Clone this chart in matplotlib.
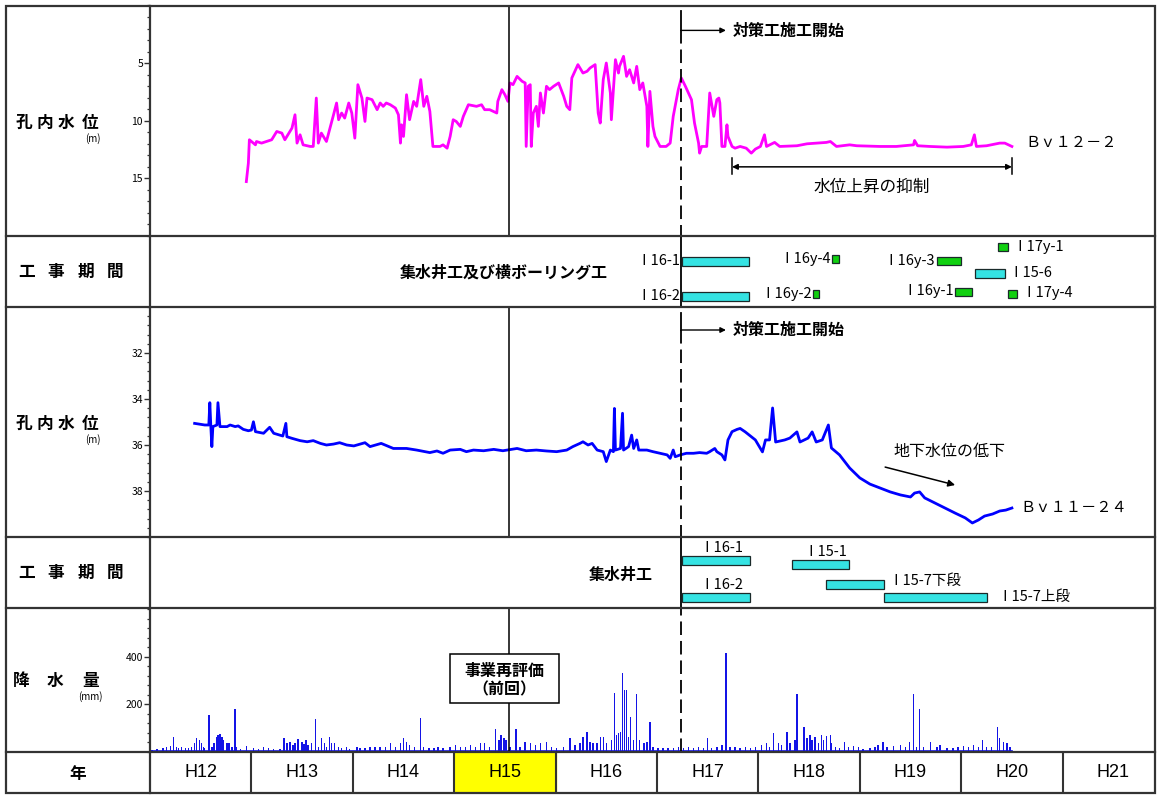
import matplotlib
matplotlib.use('Agg')
import matplotlib.pyplot as plt
from matplotlib.ticker import MultipleLocator, FixedLocator
from matplotlib.patches import Rectangle

plt.rcParams['font.family'] = ['Noto Sans CJK JP', 'DejaVu Sans']

# ---------------- data ----------------
# Bv12-2 water level (depth, m) vs. fiscal-year axis (Heisei years)
bv12_year = [12.95,12.97,12.98,13.04,13.05,13.10,13.15,13.20,13.25,13.30,
             13.33,13.36,13.40,13.43,13.45,13.48,13.51,13.58,13.61,13.64,
             13.66,13.69,13.74,13.78,13.81,13.84,13.86,13.89,13.92,13.96,
             13.99,14.02,14.05,14.09,14.12,14.14,14.19,14.24,14.27,14.30,
             14.33,14.37,14.42,14.45,14.47,14.48,14.50,14.53,14.56,14.60,
             14.63,14.67,14.70,14.73,14.76,14.79,14.86,14.89,14.93,14.96,
             14.99,15.02,15.06,15.09,15.14,15.22,15.27,15.30,15.35,
             15.42,15.43,15.47,15.50,15.53,15.55,15.58,15.62,15.67,15.70,
             15.71,15.73,15.75,15.76,15.78,15.81,15.83,15.85,15.88,15.91,
             15.94,15.98,16.03,16.08,16.11,16.14,16.16,16.22,16.27,16.31,
             16.34,16.39,16.42,16.44,16.47,16.50,16.54,16.55,16.59,16.62,
             16.63,16.67,16.70,16.73,16.77,16.80,16.83,16.86,16.90,16.91,
             16.93,16.96,16.98,17.03,17.09,17.13,17.16,17.21,17.24,17.28,
             17.31,17.34,17.37,17.41,17.42,17.44,17.49,17.52,17.56,17.59,
             17.61,17.62,17.64,17.67,17.69,17.70,17.74,17.77,17.82,
             17.88,17.93,17.97,18.02,18.06,18.08,18.16,18.21,18.38,18.48,
             18.58,18.67,18.71,18.77,18.90,18.97,19.20,19.36,19.53,19.54,
             19.57,19.69,19.86,20.02,20.10,20.13,20.15,20.25,20.38,20.43,
             20.50]
bv12_depth = [15.28,13.68,11.65,12.09,11.80,11.94,11.80,11.65,10.93,11.07,
              11.65,11.22,10.64,9.48,11.94,11.22,12.09,12.23,12.23,8.03,
              11.94,11.07,11.80,10.49,9.48,8.46,9.91,9.33,9.77,8.46,
              9.33,11.51,6.87,8.03,10.06,8.03,8.17,9.04,8.46,8.75,
              8.46,8.61,8.90,9.48,11.94,10.35,11.36,7.74,9.91,8.32,
              8.75,6.43,8.75,7.88,9.19,12.23,12.23,12.09,12.38,11.36,
              9.91,10.06,10.49,9.62,8.61,8.75,8.61,9.04,9.04,
              9.33,8.32,7.30,7.74,8.32,6.72,6.87,6.15,6.58,6.72,
              12.23,7.01,6.87,12.23,9.33,8.75,10.49,7.59,9.33,7.01,
              7.30,7.01,6.72,7.88,8.75,9.04,6.29,5.13,5.86,5.71,
              5.42,5.13,9.33,10.20,6.43,4.99,7.59,9.91,4.70,5.86,
              5.28,4.41,6.15,5.57,6.72,5.28,7.30,6.72,8.75,12.23,
              7.45,10.49,11.36,12.23,12.23,11.94,9.62,7.30,6.29,7.01,
              7.59,8.17,10.20,11.94,12.81,12.23,12.23,7.59,9.62,8.17,
              8.03,8.46,12.23,12.23,10.35,11.36,12.23,12.38,12.23,
              12.38,12.81,12.46,12.23,11.22,12.23,11.88,12.23,12.17,12.00,
              11.94,11.88,11.80,12.23,12.09,12.17,12.23,12.23,12.09,11.71,
              12.17,12.23,12.29,12.23,12.09,11.22,12.23,12.17,11.94,11.94,
              12.23]

# Bv11-24 water level (m)
bv11_year = [12.44,12.54,12.58,12.59,12.60,12.61,12.62,12.66,12.67,12.69,
             12.76,12.79,12.84,12.87,12.92,12.97,13.00,13.02,13.04,13.12,
             13.18,13.22,13.31,13.34,13.35,13.40,13.48,13.55,13.61,13.68,
             13.74,13.81,13.87,13.94,14.01,14.12,14.17,14.28,14.40,14.53,
             14.63,14.76,14.83,14.89,14.96,
             15.06,15.12,15.19,15.29,15.39,15.48,15.62,15.71,15.81,15.91,
             16.01,16.11,16.17,16.24,16.27,16.32,16.36,16.41,16.47,16.50,
             16.54,16.57,16.58,16.59,16.64,16.66,16.67,16.72,16.75,16.77,
             16.80,16.82,16.90,16.96,17.03,17.10,17.13,17.16,17.18,17.23,
             17.29,17.36,17.42,17.49,17.52,17.57,17.59,17.64,17.67,17.70,
             17.74,17.79,17.82,
             17.87,17.97,18.04,18.07,18.11,18.14,18.17,18.26,18.31,18.38,
             18.41,18.49,18.53,18.57,18.63,18.69,18.72,18.80,18.90,19.00,
             19.10,19.20,19.30,19.40,19.50,19.54,19.59,19.64,19.74,19.84,
             19.94,20.04,20.11,20.17,20.23,20.31,20.38,20.44,20.50]
bv11_depth = [35.06,35.13,35.13,34.16,35.20,36.07,35.20,35.13,34.16,35.20,
              35.20,35.13,35.20,35.17,35.32,35.38,35.35,34.99,35.42,35.49,
              35.23,35.49,35.61,35.06,35.64,35.71,35.81,35.86,35.81,35.93,
              36.00,35.96,35.90,36.00,36.04,35.90,36.07,35.93,36.15,36.15,
              36.22,36.33,36.26,36.36,36.22,
              36.19,36.29,36.22,36.25,36.19,36.25,36.15,36.25,36.22,36.26,
              36.29,36.22,36.07,35.93,35.86,36.00,35.93,36.22,36.29,36.72,
              36.22,36.29,34.41,36.22,36.15,34.62,36.22,36.07,35.57,36.15,
              35.78,36.22,36.22,36.29,36.36,36.43,36.58,36.22,36.51,36.43,
              36.36,36.36,36.33,36.36,36.29,36.15,36.29,36.43,36.65,35.78,
              35.42,35.32,35.28,
              35.43,35.78,36.30,35.78,35.78,34.39,35.87,35.78,35.70,35.43,
              35.87,35.70,35.43,35.87,35.78,35.13,36.13,36.43,37.00,37.43,
              37.70,37.87,38.04,38.17,38.26,38.09,38.04,38.30,38.52,38.74,
              38.96,39.17,39.39,39.26,39.09,39.00,38.87,38.83,38.74]

# Rainfall (mm)
rain_year = [12.02,12.07,12.13,12.16,12.20,12.23,12.26,12.28,12.31,12.35,
             12.38,12.41,12.44,12.46,12.49,12.51,12.53,12.54,12.58,12.61,
             12.63,12.66,12.67,12.69,12.71,12.72,12.76,12.78,12.81,12.84,
             12.85,12.89,12.95,13.02,13.07,13.12,13.17,13.22,13.28,13.32,
             13.35,13.38,13.41,13.43,13.46,13.50,13.52,13.54,13.56,13.59,
             13.63,13.66,13.69,13.72,13.74,13.77,13.79,13.82,13.86,13.89,
             13.94,13.97,14.04,14.07,14.12,14.17,14.22,14.27,14.32,14.37,
             14.42,
             14.47,14.50,14.53,14.56,14.61,14.67,14.70,14.75,14.80,14.84,
             14.89,14.96,15.01,15.06,15.11,15.16,15.21,15.26,15.30,15.35,
             15.41,15.44,15.46,15.49,15.51,15.55,15.61,15.65,15.70,15.75,
             15.80,15.85,15.91,15.96,16.01,16.08,16.14,16.19,16.24,16.27,
             16.31,16.34,16.37,16.41,16.44,16.47,16.50,16.55,16.58,16.60,
             16.62,16.64,16.66,16.68,16.70,16.72,16.74,16.77,16.80,16.83,
             16.87,16.90,16.93,16.96,17.01,17.06,17.11,17.16,17.21,17.26,
             17.31,17.36,17.41,17.46,17.50,17.54,17.59,17.64,17.68,17.72,
             17.77,17.82,17.87,17.92,17.97,18.03,18.08,18.11,18.15,18.20,
             18.23,18.28,18.31,18.36,18.38,
             18.45,18.48,18.51,18.53,18.56,18.59,18.62,18.64,18.67,18.71,
             18.72,18.76,18.80,18.85,18.89,18.94,18.99,19.03,19.10,19.15,
             19.18,19.23,19.27,19.33,19.40,19.45,19.49,19.53,19.56,19.59,
             19.63,19.70,19.76,19.79,19.86,19.92,19.97,20.02,20.07,20.12,
             20.17,20.21,20.25,20.30,20.36,20.38,20.42,20.45,20.48]
rain_mm = [8,11,15,22,27,64,22,15,22,15,
           18,22,36,57,50,36,22,15,155,22,
           36,62,71,74,64,50,36,39,22,179,
           22,12,27,15,11,22,17,12,12,57,
           36,43,29,36,53,43,32,50,29,36,
           139,22,60,36,22,62,36,36,22,15,
           22,11,22,15,18,22,20,22,22,39,
           22,
           36,57,43,29,22,141,22,15,18,22,
           15,22,29,22,22,31,22,38,36,22,
           95,50,73,59,50,22,95,22,43,36,
           29,38,43,22,15,22,57,29,36,62,
           83,43,36,36,64,64,36,50,249,71,
           78,85,333,263,260,64,148,50,246,50,
           36,43,127,22,15,15,15,18,22,15,
           22,18,22,15,57,15,22,29,417,22,
           22,15,22,15,22,29,36,22,81,36,
           29,84,36,50,246,
           106,57,71,50,64,36,71,50,67,71,
           36,22,15,43,22,25,22,11,15,22,
           29,43,22,25,29,22,43,246,22,179,
           22,43,22,29,15,15,22,25,22,29,
           22,50,22,22,106,57,43,36,22]

# Construction periods (upper: 集水井工及び横ボーリング工)
works1_name = ['Ⅰ16-1', 'Ⅰ16-2', 'Ⅰ16y-4', 'Ⅰ16y-2', 'Ⅰ16y-3', 'Ⅰ16y-1',
               'Ⅰ17y-1', 'Ⅰ15-6', 'Ⅰ17y-4']
works1_start = [17.25, 17.25, 18.73, 18.54, 19.76, 19.94, 20.36, 20.14, 20.46]
works1_end = [17.91, 17.91, 18.79, 18.60, 20.00, 20.11, 20.46, 20.43, 20.55]
works1_kind = ['well', 'well', 'bore', 'bore', 'bore', 'bore', 'bore', 'well', 'bore']

# Construction periods (lower: 集水井工)
works2_name = ['Ⅰ16-1', 'Ⅰ16-2', 'Ⅰ15-1', 'Ⅰ15-7下段', 'Ⅰ15-7上段']
works2_start = [17.25, 17.25, 18.33, 18.67, 19.24]
works2_end = [17.92, 17.92, 18.89, 19.24, 20.25]

years = ['H12', 'H13', 'H14', 'H15', 'H16', 'H17', 'H18', 'H19', 'H20', 'H21']
year_start = [12, 13, 14, 15, 16, 17, 18, 19, 20, 21]
highlight_year = 'H15'

start_countermeasure = 17.24   # 対策工施工開始
reevaluation = 15.54           # 事業再評価（前回）

# ---------------- layout ----------------
W, H = 1161, 795
fig = plt.figure(figsize=(W / 100, H / 100), dpi=100)
LEFT, RIGHT = 150, 1155
XMIN, XMAX = 12.0, 12.0 + (RIGHT - LEFT) / 101.4
FRAME = '#333333'


def rect(x0, y0, x1, y1):
    return [x0 / W, 1 - y1 / H, (x1 - x0) / W, (y1 - y0) / H]


def base_axes(y0, y1):
    ax = fig.add_axes(rect(LEFT, y0, RIGHT, y1))
    ax.set_xlim(XMIN, XMAX)
    ax.patch.set_visible(False)
    for s in ax.spines.values():
        s.set_visible(False)
    ax.set_xticks([])
    return ax


def style_y(ax, major, minor):
    ax.yaxis.set_major_locator(FixedLocator(major))
    ax.yaxis.set_minor_locator(MultipleLocator(minor))
    ax.tick_params(axis='y', which='major', direction='out', length=4,
                   width=1, color=FRAME, labelsize=7.5, pad=1)
    ax.tick_params(axis='y', which='minor', direction='out', length=2.5,
                   width=0.9, color=FRAME)


DASH = (0, (7.5, 3.3))

# ---- panel 1: Bv12-2 ----
ax1 = base_axes(5.5, 236)
ax1.set_ylim(20, 0)
style_y(ax1, [5, 10, 15], 1)
ax1.plot(bv12_year, bv12_depth, color='#FF00FF', lw=2.0, solid_joinstyle='round')
ax1.plot([reevaluation] * 2, [0, 20], color='k', lw=1.1)
ax1.plot([start_countermeasure] * 2, [0.45, 2.16], color='k', lw=1.3)
ax1.plot([start_countermeasure] * 2, [2.16, 20], color='k', lw=1.3, linestyle=DASH)
ax1.annotate('', xy=(17.68, 2.16), xytext=(start_countermeasure, 2.16),
             arrowprops=dict(arrowstyle='-|>', color='k', lw=1.0,
                             mutation_scale=8, shrinkA=0, shrinkB=0))
ax1.text(17.75, 2.16, '対策工施工開始', fontsize=11.5, fontweight='bold',
         va='center', ha='left')
ax1.annotate('', xy=(17.74, 14.0), xytext=(20.50, 14.0),
             arrowprops=dict(arrowstyle='<|-|>', color='k', lw=1.1,
                             mutation_scale=8, shrinkA=0, shrinkB=0))
ax1.plot([17.74, 17.74], [13.2, 14.6], color='k', lw=1.1)
ax1.plot([20.50, 20.50], [13.2, 14.6], color='k', lw=1.1)
ax1.text(19.12, 15.75, '水位上昇の抑制', fontsize=12, ha='center', va='center')
ax1.text(20.63, 11.9, 'Ｂｖ１２－２', fontsize=11, ha='left', va='center')

# ---- construction panel 1 ----
axc1 = base_axes(236, 307)
axc1.set_ylim(307, 236)
axc1.set_yticks([])
rows1 = [261, 296.5, 259, 294, 260.5, 291.5, 246.5, 273, 293.5]
side1 = ['L', 'L', 'L', 'L', 'L', 'L', 'R', 'R', 'R']
for name, s, e, kind, r, sd in zip(works1_name, works1_start, works1_end,
                                   works1_kind, rows1, side1):
    col = '#35E3E3' if kind == 'well' else '#10D010'
    h = 9 if kind == 'well' else 8
    axc1.barh(r, e - s, left=s, height=h, color=col, edgecolor='#1a2a2a', lw=0.9, zorder=3)
    if sd == 'L':
        axc1.text(s - 0.015, r, name, ha='right', va='center', fontsize=10.5)
    else:
        axc1.text(e + 0.04, r, name, ha='left', va='center', fontsize=10.5)
axc1.plot([start_countermeasure] * 2, [236, 307], color='k', lw=1.3)
axc1.text(15.49, 272, '集水井工及び横ボーリング工', fontsize=11.5, fontweight='bold',
          ha='center', va='center')

# ---- panel 2: Bv11-24 ----
ax2 = base_axes(307, 537)
ax2.set_ylim(40, 30)
style_y(ax2, [32, 34, 36, 38], 0.4)
ax2.plot(bv11_year, bv11_depth, color='#0000FF', lw=2.0, solid_joinstyle='round')
ax2.plot([reevaluation] * 2, [30, 40], color='k', lw=1.1)
ax2.plot([start_countermeasure] * 2, [30.26, 31.0], color='k', lw=1.3)
ax2.plot([start_countermeasure] * 2, [31.0, 40], color='k', lw=1.3, linestyle=DASH)
ax2.annotate('', xy=(17.68, 31.0), xytext=(start_countermeasure, 31.0),
             arrowprops=dict(arrowstyle='-|>', color='k', lw=1.0,
                             mutation_scale=8, shrinkA=0, shrinkB=0))
ax2.text(17.75, 31.0, '対策工施工開始', fontsize=11.5, fontweight='bold',
         va='center', ha='left')
ax2.text(19.33, 36.3, '地下水位の低下', fontsize=11.5, ha='left', va='center')
ax2.annotate('', xy=(19.94, 37.74), xytext=(19.25, 36.96),
             arrowprops=dict(arrowstyle='-|>', color='k', lw=1.1,
                             mutation_scale=10, shrinkA=0, shrinkB=0))
ax2.text(20.58, 38.7, 'Ｂｖ１１－２４', fontsize=11, ha='left', va='center')

# ---- construction panel 2 ----
axc2 = base_axes(537, 608)
axc2.set_ylim(608, 537)
axc2.set_yticks([])
rows2 = [560.5, 597, 564, 584, 597]
side2 = ['T', 'T', 'T', 'R', 'R']
for name, s, e, r, sd in zip(works2_name, works2_start, works2_end, rows2, side2):
    axc2.barh(r, e - s, left=s, height=9, color='#35E3E3', edgecolor='#1a2a2a',
              lw=0.9, zorder=3)
    if sd == 'T':
        axc2.text((s + e) / 2 + 0.05, r - 5, name, ha='center', va='bottom', fontsize=10.5)
    elif name.endswith('下段'):
        axc2.text(e + 0.04, r - 3, name, ha='left', va='center', fontsize=10.5)
    else:
        axc2.text(e + 0.11, r, name, ha='left', va='center', fontsize=10.5)
axc2.plot([start_countermeasure] * 2, [537, 608], color='k', lw=1.3)
axc2.text(16.64, 575, '集水井工', fontsize=11.5, fontweight='bold',
          ha='center', va='center')

# ---- rainfall ----
ax3 = base_axes(608, 752)
ax3.set_ylim(0, 606)
style_y(ax3, [200, 400], 40)
ax3.bar(rain_year, rain_mm, width=0.014, color='#1414E6', linewidth=0)
ax3.plot([XMIN, 20.5], [3, 3], color='#1414E6', lw=1.2)
ax3.plot([reevaluation] * 2, [0, 606], color='k', lw=1.1)
ax3.plot([start_countermeasure] * 2, [0, 606], color='k', lw=1.3, linestyle=DASH)
ax3.add_patch(Rectangle((14.96, 206), 1.07, 206, facecolor='white',
                        edgecolor='k', lw=1.1, zorder=4))
ax3.text(15.495, 342, '事業再評価', fontsize=11.5, fontweight='bold',
         ha='center', va='center', zorder=5)
ax3.text(15.495, 262, '（前回）', fontsize=11.5, fontweight='bold',
         ha='center', va='center', zorder=5)

# ---- year row ----
axy = base_axes(752, 793)
axy.set_ylim(0, 1)
axy.set_yticks([])
for lab, ys in zip(years, year_start):
    if lab == highlight_year:
        axy.axvspan(ys, ys + 1, color='#FFFF00', zorder=0)
    if ys > year_start[0]:
        axy.axvline(ys, color=FRAME, lw=1.5)
    axy.text(ys + 0.5, 0.5, lab, ha='center', va='center', fontsize=13,
             family=['Liberation Sans', 'DejaVu Sans'])

# ---- overlay: frame and row labels ----
ov = fig.add_axes([0, 0, 1, 1])
ov.set_xlim(0, W)
ov.set_ylim(H, 0)
ov.axis('off')
ov.set_zorder(10)
ov.add_patch(Rectangle((5.5, 5.5), RIGHT - 5.5, 793 - 5.5, fill=False,
                       edgecolor=FRAME, lw=1.6))
for yy in [236, 307, 537, 608, 752]:
    ov.plot([5.5, RIGHT], [yy, yy], color=FRAME, lw=1.6)
ov.plot([LEFT, LEFT], [5.5, 793], color=FRAME, lw=1.6)


def row_label(chars, xs, y, unit=None, unit_x=None):
    for c, x in zip(chars, xs):
        ov.text(x, y, c, ha='center', va='center', fontsize=12, fontweight='bold')
    if unit:
        ov.text(unit_x, y + 16, unit, ha='center', va='center', fontsize=7)


row_label('孔内水位', [24, 45, 66, 90], 123, '(m)', 93)
row_label('工事期間', [27, 56, 86, 115], 272)
row_label('孔内水位', [24, 45, 66, 90], 424, '(m)', 93)
row_label('工事期間', [27, 56, 86, 115], 573)
row_label('降水量', [21, 55, 91], 681, '(mm)', 90)
row_label('年', [78], 774)

fig.savefig('out.png', dpi=100)
